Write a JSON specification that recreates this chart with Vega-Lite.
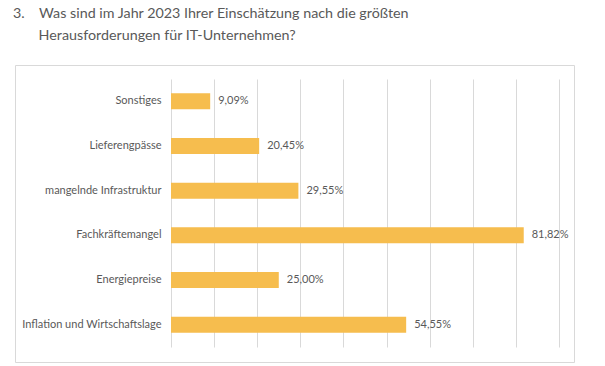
{
  "$schema": "https://vega.github.io/schema/vega-lite/v6.json",
  "autosize": {"type": "none"},
  "padding": {"left": 15, "top": 65, "right": 31, "bottom": 4},
  "width": 559,
  "height": 297,
  "background": "#ffffff",
  "config": {
    "locale": {"number": {"decimal": ",", "thousands": ".", "grouping": [3], "currency": ["", " €"]}},
    "view": {"stroke": "#D9D9D9", "strokeWidth": 1},
    "font": "Lato"
  },
  "title": {
    "text": ["3.\u00a0\u00a0\u00a0\u00a0Was sind im Jahr 2023 Ihrer Einschätzung nach die größten", "\u200b\u00a0\u00a0\u00a0\u00a0\u00a0\u00a0\u00a0Herausforderungen für IT-Unternehmen?"],
    "anchor": "start",
    "frame": "group",
    "orient": "top",
    "offset": 22,
    "dx": -2,
    "font": "Lato",
    "fontSize": 14.3,
    "fontWeight": "normal",
    "color": "#595959",
    "lineHeight": 22
  },
  "data": {
    "values": [
      {"kategorie": "Sonstiges", "anteil": 0.0909},
      {"kategorie": "Lieferengpässe", "anteil": 0.2045},
      {"kategorie": "mangelnde Infrastruktur", "anteil": 0.2955},
      {"kategorie": "Fachkräftemangel", "anteil": 0.8182},
      {"kategorie": "Energiepreise", "anteil": 0.25},
      {"kategorie": "Inflation und Wirtschaftslage", "anteil": 0.5455}
    ]
  },
  "encoding": {
    "y": {
      "field": "kategorie",
      "type": "nominal",
      "sort": null,
      "scale": {"range": [14, 282], "paddingInner": 0.64, "paddingOuter": 0.32},
      "axis": {
        "title": null,
        "orient": "left",
        "offset": -156,
        "domain": false,
        "ticks": false,
        "grid": false,
        "labelPadding": 10,
        "labelFont": "Lato",
        "labelFontSize": 11,
        "labelColor": "#595959"
      }
    },
    "x": {
      "field": "anteil",
      "type": "quantitative",
      "scale": {"domain": [0, 0.9], "range": [156, 544], "nice": false, "zero": true},
      "axis": {
        "title": null,
        "orient": "bottom",
        "offset": -15,
        "values": [0, 0.1, 0.2, 0.3, 0.4, 0.5, 0.6, 0.7, 0.8, 0.9],
        "labels": false,
        "domain": false,
        "grid": false,
        "ticks": true,
        "tickSize": -268,
        "tickColor": "#D9D9D9",
        "tickWidth": 1
      }
    }
  },
  "layer": [
    {
      "mark": {"type": "bar", "color": "#F6BD4E"}
    },
    {
      "mark": {"type": "text", "align": "left", "baseline": "middle", "dx": 8, "font": "Lato", "fontSize": 11, "color": "#595959"},
      "encoding": {
        "text": {"field": "anteil", "type": "quantitative", "format": ".2%"}
      }
    }
  ]
}
